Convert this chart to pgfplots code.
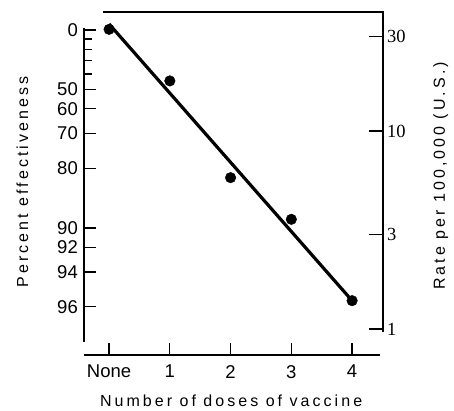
\documentclass[border=0pt]{standalone}
\usepackage{pgfplots}
\pgfplotsset{compat=1.18}
\usepackage{fontspec}
\setmainfont{Liberation Sans}
\newfontfamily\serifnum{Liberation Serif}
\newfontfamily\lbl[LetterSpace=19]{Liberation Sans}
\begin{document}
\begin{tikzpicture}
\begin{semilogyaxis}[
  at={(84pt,56pt)}, anchor=south west,
  scale only axis, width=299pt, height=343pt,
  xmin=-0.413, xmax=4.509, ymin=0.7391, ymax=39.9,
  axis line style={draw=none},
  tick align=inside,
  clip=false,
  tick style={black, line width=1.2pt},
  axis x line*=bottom, axis y line*=left,
  xtick={0,1,2,3,4}, xticklabels={None,1,2,3,4},
  ytick={32.36,16.18,12.94,9.708,6.472,3.236,2.589,1.942,1.294},
  yticklabels={0,50,60,70,80,90,92,94,96},
  minor ytick={29.12,25.89,22.65,19.42},
  major tick length=12pt, minor tick length=8pt,
  ticklabel style={font=\fontsize{18.5}{20}\selectfont},
  yticklabel style={anchor=east, inner sep=0pt, xshift=-6pt},
  xticklabel style={anchor=north, inner sep=0pt, yshift=-10pt},
]
\addplot[black, line width=3.2pt] coordinates {(0,34.7) (4,1.39)};
\addplot[only marks, mark=*, mark size=5.3pt, black] coordinates {
 (0,32.6) (1,17.9) (2,5.81) (3,3.58) (4,1.39)};
\draw[line width=1.5pt] (axis cs:-0.10,39.9) -- (axis cs:4.509,39.9) -- (axis cs:4.509,0.966);
\draw[line width=1.5pt] (axis cs:-0.413,0.7391) -- (axis cs:4.459,0.7391);
\draw[line width=1.5pt] (axis cs:-0.413,33.1) -- (axis cs:-0.413,0.860);
\node[anchor=base, font=\lbl\fontsize{16}{18}\selectfont] at (rel axis cs:0.492,-0.1487) {Number of doses of vaccine};
\node[anchor=base, rotate=90, font=\lbl\fontsize{16}{18}\selectfont] at (rel axis cs:-0.187,0.504) {Percent effectiveness};
\node[anchor=base, rotate=90, font=\lbl\fontsize{16}{18}\selectfont] at (rel axis cs:1.207,0.522) {Rate per 100,000 (U.S.)};
\end{semilogyaxis}
\begin{semilogyaxis}[
  at={(84pt,56pt)}, anchor=south west,
  scale only axis, width=299pt, height=343pt,
  xmin=-0.413, xmax=4.509, ymin=0.7391, ymax=39.9,
  axis line style={draw=none},
  tick align=inside,
  clip=false,
  tick style={black, line width=1.2pt},
  axis y line*=right, axis x line*=bottom, xtick=\empty,
  ytick={1,3,10,30}, yticklabels={1,3,10,30},
  major tick length=14pt,
  yticklabel style={anchor=west, inner sep=0pt, xshift=4pt, font=\serifnum\fontsize{18.5}{20}\selectfont},
]
\addplot[draw=none] coordinates {(0,1) (1,2)};
\end{semilogyaxis}
\pgfresetboundingbox
\path (0,0) rectangle (454pt,411pt);
\end{tikzpicture}
\end{document}
